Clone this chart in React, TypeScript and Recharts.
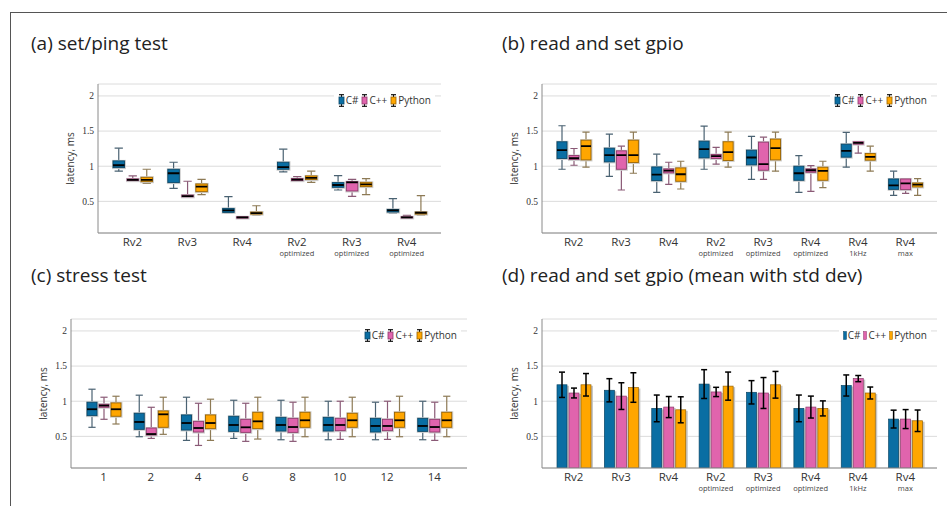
import { Bar, CartesianGrid, ComposedChart, ErrorBar, XAxis, YAxis } from "recharts";

const FONT = '"Open Sans", "Noto Sans", sans-serif';
const SERIF = '"Liberation Serif", "DejaVu Serif", serif';

type Five = [number, number, number, number, number];
type Key = "cs" | "cpp" | "py";

const SERIES: Key[] = ["cs", "cpp", "py"];
const LABELS: Record<Key, string> = { cs: "C#", cpp: "C++", py: "Python" };
const FILL: Record<Key, string> = { cs: "#0a6ea3", cpp: "#e064ad", py: "#ffa600" };
const EDGE: Record<Key, string> = { cs: "#0b4766", cpp: "#8d3a6a", py: "#9a6400" };
const WHISK: Record<Key, string> = { cs: "#4a6272", cpp: "#8a5a76", py: "#8d7a55" };

const Y_DOMAIN: [number, number] = [0.05, 2.17];
const Y_TICKS = [0.5, 1, 1.5, 2];

// (a) set/ping test — [min, q1, median, q3, max]
const pingNames = ["Rv2", "Rv3", "Rv4", "Rv2", "Rv3", "Rv4"];
const pingSubs = ["", "", "", "optimized", "optimized", "optimized"];
const pingCs: Five[] = [
  [0.93, 0.98, 1.014, 1.076, 1.257],
  [0.686, 0.767, 0.9, 0.957, 1.057],
  [0.333, 0.343, 0.371, 0.4, 0.567],
  [0.919, 0.957, 0.986, 1.057, 1.243],
  [0.662, 0.7, 0.733, 0.767, 0.867],
  [0.333, 0.348, 0.371, 0.386, 0.538],
];
const pingCpp: Five[] = [
  [0.79, 0.795, 0.805, 0.82, 0.862],
  [0.562, 0.565, 0.576, 0.59, 0.786],
  [0.257, 0.262, 0.271, 0.281, 0.283],
  [0.79, 0.795, 0.81, 0.824, 0.852],
  [0.571, 0.648, 0.771, 0.781, 0.814],
  [0.262, 0.265, 0.271, 0.281, 0.3],
];
const pingPy: Five[] = [
  [0.757, 0.78, 0.805, 0.843, 0.957],
  [0.595, 0.638, 0.71, 0.748, 0.814],
  [0.305, 0.319, 0.333, 0.348, 0.438],
  [0.771, 0.81, 0.833, 0.862, 0.929],
  [0.595, 0.71, 0.743, 0.771, 0.824],
  [0.305, 0.319, 0.338, 0.348, 0.581],
];

// (b) read and set gpio
const gpioNames = ["Rv2", "Rv3", "Rv4", "Rv2", "Rv3", "Rv4", "Rv4", "Rv4"];
const gpioSubs = ["", "", "", "optimized", "optimized", "optimized", "1kHz", "max"];
const gpioCs: Five[] = [
  [0.957, 1.11, 1.229, 1.348, 1.576],
  [0.857, 1.062, 1.157, 1.257, 1.457],
  [0.629, 0.795, 0.881, 0.99, 1.171],
  [0.957, 1.119, 1.243, 1.357, 1.571],
  [0.814, 1.019, 1.124, 1.229, 1.424],
  [0.629, 0.8, 0.9, 1.0, 1.152],
  [0.986, 1.129, 1.219, 1.314, 1.481],
  [0.586, 0.671, 0.729, 0.819, 0.929],
];
const gpioCpp: Five[] = [
  [1.014, 1.095, 1.114, 1.152, 1.252],
  [0.662, 0.957, 1.157, 1.219, 1.286],
  [0.743, 0.905, 0.938, 0.962, 1.057],
  [1.029, 1.11, 1.143, 1.167, 1.267],
  [0.814, 0.943, 1.029, 1.343, 1.414],
  [0.643, 0.914, 0.943, 0.962, 1.01],
  [1.186, 1.314, 1.333, 1.348, 1.352],
  [0.614, 0.667, 0.757, 0.819, 0.824],
];
const gpioPy: Five[] = [
  [0.986, 1.09, 1.286, 1.371, 1.486],
  [0.9, 1.052, 1.157, 1.371, 1.486],
  [0.676, 0.786, 0.886, 0.976, 1.071],
  [0.986, 1.081, 1.2, 1.348, 1.486],
  [0.929, 1.09, 1.257, 1.386, 1.486],
  [0.695, 0.8, 0.933, 0.986, 1.071],
  [0.929, 1.086, 1.133, 1.181, 1.286],
  [0.586, 0.705, 0.738, 0.762, 0.824],
];

// (c) stress test
const stressNames = ["1", "2", "4", "6", "8", "10", "12", "14"];
const stressSubs = ["", "", "", "", "", "", "", ""];
const stressCs: Five[] = [
  [0.629, 0.795, 0.886, 0.986, 1.171],
  [0.495, 0.6, 0.705, 0.829, 1.086],
  [0.443, 0.59, 0.69, 0.805, 1.057],
  [0.471, 0.571, 0.662, 0.786, 1.014],
  [0.452, 0.576, 0.662, 0.771, 1.014],
  [0.452, 0.576, 0.662, 0.771, 1.0],
  [0.452, 0.562, 0.648, 0.757, 0.986],
  [0.452, 0.571, 0.648, 0.757, 1.0],
];
const stressCpp: Five[] = [
  [0.743, 0.914, 0.938, 0.957, 1.057],
  [0.471, 0.519, 0.533, 0.619, 0.914],
  [0.371, 0.562, 0.619, 0.714, 0.971],
  [0.429, 0.557, 0.629, 0.743, 0.971],
  [0.429, 0.557, 0.633, 0.757, 0.986],
  [0.457, 0.581, 0.662, 0.757, 1.0],
  [0.457, 0.581, 0.648, 0.743, 1.0],
  [0.443, 0.562, 0.633, 0.743, 0.986],
];
const stressPy: Five[] = [
  [0.676, 0.786, 0.886, 0.976, 1.071],
  [0.529, 0.629, 0.814, 0.862, 1.057],
  [0.443, 0.61, 0.69, 0.805, 1.029],
  [0.462, 0.61, 0.714, 0.843, 1.057],
  [0.495, 0.629, 0.729, 0.843, 1.057],
  [0.495, 0.629, 0.729, 0.829, 1.057],
  [0.495, 0.629, 0.729, 0.843, 1.071],
  [0.495, 0.629, 0.729, 0.843, 1.071],
];

// (d) mean with std dev, same categories as (b)
const meanCs = [1.234, 1.156, 0.898, 1.244, 1.127, 0.898, 1.224, 0.746];
const sdCs = [0.18, 0.165, 0.19, 0.205, 0.166, 0.19, 0.15, 0.127];
const meanCpp = [1.117, 1.073, 0.917, 1.132, 1.117, 0.917, 1.322, 0.746];
const sdCpp = [0.07, 0.19, 0.15, 0.066, 0.22, 0.156, 0.044, 0.135];
const meanPy = [1.234, 1.195, 0.878, 1.215, 1.234, 0.898, 1.117, 0.722];
const sdPy = [0.16, 0.21, 0.185, 0.2, 0.19, 0.107, 0.085, 0.153];

function boxRows(names: string[], subs: string[], cs: Five[], cpp: Five[], py: Five[]) {
  return names.map((name, i) => ({
    key: `${name} ${subs[i]} ${i}`,
    cs: [cs[i][0], cs[i][4]],
    csBox: cs[i],
    cpp: [cpp[i][0], cpp[i][4]],
    cppBox: cpp[i],
    py: [py[i][0], py[i][4]],
    pyBox: py[i],
  }));
}

const meanRows = gpioNames.map((name, i) => ({
  key: `${name} ${gpioSubs[i]} ${i}`,
  cs: meanCs[i],
  csErr: sdCs[i],
  cpp: meanCpp[i],
  cppErr: sdCpp[i],
  py: meanPy[i],
  pyErr: sdPy[i],
}));

// whiskers/box/median drawn inside the min-max range bar recharts gives us
function boxShape(k: Key) {
  return (props: any) => {
    const { x, y, width, height, payload } = props;
    const q: Five = payload[k + "Box"];
    const top = Math.min(y, y + height);
    const h = Math.abs(height);
    const span = q[4] - q[0] || 1;
    const py = (v: number) => top + (h * (q[4] - v)) / span;
    const cx = x + width / 2;
    const cap = width * 0.36;
    const y1 = py(q[1]);
    const y3 = py(q[3]);
    const ym = py(q[2]);
    return (
      <g>
        <line x1={cx} x2={cx} y1={py(q[4])} y2={y3} stroke={WHISK[k]} strokeWidth={1.2} />
        <line x1={cx} x2={cx} y1={y1} y2={py(q[0])} stroke={WHISK[k]} strokeWidth={1.2} />
        <line x1={cx - cap} x2={cx + cap} y1={py(q[4])} y2={py(q[4])} stroke={WHISK[k]} strokeWidth={1.2} />
        <line x1={cx - cap} x2={cx + cap} y1={py(q[0])} y2={py(q[0])} stroke={WHISK[k]} strokeWidth={1.2} />
        <rect x={x - 1} y={y3 - 1} width={width + 2.5} height={Math.max(y1 - y3, 1) + 2.5} fill="#cfcfcf" />
        <rect x={x} y={y3} width={width} height={Math.max(y1 - y3, 1)} fill={FILL[k]} stroke={EDGE[k]} strokeWidth={0.9} />
        <line x1={x} x2={x + width} y1={ym} y2={ym} stroke="#000" strokeWidth={1.8} />
      </g>
    );
  };
}

function barShape(k: Key) {
  return (props: any) => {
    const { x, y, width, height } = props;
    return (
      <g>
        <rect x={x + 2} y={y + 1} width={width} height={Math.max(height - 1, 0)} fill="#c6c6c6" />
        <rect x={x} y={y} width={width} height={height} fill={FILL[k]} stroke={EDGE[k]} strokeWidth={0.7} />
      </g>
    );
  };
}

function CategoryTick(props: any) {
  const { x, y, payload, names, subs } = props;
  const i = payload.index;
  return (
    <g transform={`translate(${x},${y})`}>
      <text y={4.5} textAnchor="middle" fontSize={11.5} fill="#333" fontFamily={FONT}>
        {names[i]}
      </text>
      {subs[i] ? (
        <text y={14.5} textAnchor="middle" fontSize={7.5} fill="#444" fontFamily={FONT}>
          {subs[i]}
        </text>
      ) : null}
    </g>
  );
}

function BoxIcon({ k }: { k: Key }) {
  return (
    <svg width={7} height={13} style={{ display: "block" }}>
      <line x1={1} x2={6} y1={0.7} y2={0.7} stroke="#111" strokeWidth={1.2} />
      <line x1={1} x2={6} y1={12.3} y2={12.3} stroke="#111" strokeWidth={1.2} />
      <line x1={3.5} x2={3.5} y1={0.7} y2={12.3} stroke="#111" strokeWidth={1} />
      <rect x={1} y={3} width={5} height={7} fill={FILL[k]} stroke={EDGE[k]} strokeWidth={0.8} />
    </svg>
  );
}

function BarIcon({ k }: { k: Key }) {
  return (
    <svg width={4} height={9} style={{ display: "block" }}>
      <rect x={0.5} y={0.5} width={3} height={8} fill={FILL[k]} stroke={EDGE[k]} strokeWidth={0.5} />
    </svg>
  );
}

function LegendBox({ right, top, bars }: { right: number; top: number; bars?: boolean }) {
  return (
    <div
      style={{
        position: "absolute",
        right,
        top,
        background: "#fff",
        padding: "1px 4px",
        display: "flex",
        alignItems: "center",
        fontFamily: FONT,
        fontSize: 10,
        color: "#333",
        lineHeight: "13px",
      }}
    >
      {SERIES.map((k, i) => (
        <div key={k} style={{ display: "flex", alignItems: "center", marginLeft: i ? 3 : 0 }}>
          {bars ? <BarIcon k={k} /> : <BoxIcon k={k} />}
          <span style={{ marginLeft: 1 }}>{LABELS[k]}</span>
        </div>
      ))}
    </div>
  );
}

type Plot = { l: number; t: number; r: number; b: number };

function Panel({
  plot,
  data,
  names,
  subs,
  kind,
  barSize,
  barGap,
  padX,
}: {
  plot: Plot;
  data: any[];
  names: string[];
  subs: string[];
  kind: "box" | "bar";
  barSize: number;
  barGap: number;
  padX: number;
}) {
  const left = plot.l - 58;
  const top = plot.t - 12;
  const width = plot.r - plot.l + 62;
  const height = plot.b - plot.t + 44;
  return (
    <div style={{ position: "absolute", left, top, width, height }}>
      <ComposedChart
        width={width}
        height={height}
        data={data}
        margin={{ top: 12, right: 4, bottom: 2, left: 2 }}
        barGap={barGap}
      >
        <CartesianGrid vertical={false} stroke="#dcdcdc" />
        <XAxis
          dataKey="key"
          height={30}
          tickLine={false}
          tickMargin={2}
          interval={0}
          padding={{ left: padX, right: padX }}
          axisLine={{ stroke: "#8a8a8a" }}
          tick={<CategoryTick names={names} subs={subs} />}
        />
        <XAxis xAxisId="top" orientation="top" dataKey="key" height={0} tick={false} tickLine={false} axisLine={{ stroke: "#a8a8a8" }} />
        <YAxis
          width={56}
          domain={Y_DOMAIN}
          ticks={Y_TICKS}
          allowDataOverflow
          tickLine={false}
          tickSize={0}
          tickMargin={4}
          axisLine={{ stroke: "#8a8a8a" }}
          tick={{ fontSize: 9.5, fill: "#333", fontFamily: SERIF }}
          label={{ value: "latency, ms", angle: -90, position: "center", fontSize: 10, fill: "#333", fontFamily: FONT }}
        />
        <YAxis yAxisId="right" orientation="right" width={0} domain={Y_DOMAIN} tick={false} tickLine={false} axisLine={{ stroke: "#a8a8a8" }} />
        {SERIES.map((k) =>
          kind === "box" ? (
            <Bar key={k} dataKey={k} barSize={barSize} shape={boxShape(k)} isAnimationActive={false} />
          ) : (
            <Bar key={k} dataKey={k} barSize={barSize} shape={barShape(k)} isAnimationActive={false}>
              <ErrorBar dataKey={k + "Err"} width={3} stroke="#000" strokeWidth={1.5} direction="y" />
            </Bar>
          ),
        )}
      </ComposedChart>
      <LegendBox right={4 + 6} top={12 + 9} bars={kind === "bar"} />
    </div>
  );
}

function Title({ x, baseline, text }: { x: number; baseline: number; text: string }) {
  return (
    <div
      style={{
        position: "absolute",
        left: x,
        top: baseline - 17,
        fontFamily: FONT,
        fontSize: 19,
        lineHeight: "19px",
        color: "#222",
        whiteSpace: "nowrap",
      }}
    >
      {text}
    </div>
  );
}

export default function App() {
  return (
    <div style={{ position: "absolute", left: 0, top: 0, width: 947, height: 506, overflow: "hidden", background: "#fff" }}>
      <div
        style={{
          position: "absolute",
          left: 10,
          top: 12,
          width: 960,
          height: 520,
          borderLeft: "1.3px solid #555",
          borderTop: "1.3px solid #555",
        }}
      />
      <Title x={31} baseline={51} text="(a) set/ping test" />
      <Title x={502} baseline={51} text="(b) read and set gpio" />
      <Title x={31} baseline={283} text="(c) stress test" />
      <Title x={502} baseline={283} text="(d) read and set gpio (mean with std dev)" />
      <Panel
        plot={{ l: 98, t: 84, r: 441, b: 233 }}
        data={boxRows(pingNames, pingSubs, pingCs, pingCpp, pingPy)}
        names={pingNames}
        subs={pingSubs}
        kind="box"
        barSize={11.5}
        barGap={2.5}
        padX={7}
      />
      <Panel
        plot={{ l: 542, t: 84, r: 937, b: 233 }}
        data={boxRows(gpioNames, gpioSubs, gpioCs, gpioCpp, gpioPy)}
        names={gpioNames}
        subs={gpioSubs}
        kind="box"
        barSize={10}
        barGap={2}
        padX={8}
      />
      <Panel
        plot={{ l: 71, t: 319, r: 467, b: 468 }}
        data={boxRows(stressNames, stressSubs, stressCs, stressCpp, stressPy)}
        names={stressNames}
        subs={stressSubs}
        kind="box"
        barSize={10}
        barGap={2}
        padX={9}
      />
      <Panel
        plot={{ l: 542, t: 319, r: 937, b: 468 }}
        data={meanRows}
        names={gpioNames}
        subs={gpioSubs}
        kind="bar"
        barSize={10}
        barGap={2}
        padX={8}
      />
    </div>
  );
}
